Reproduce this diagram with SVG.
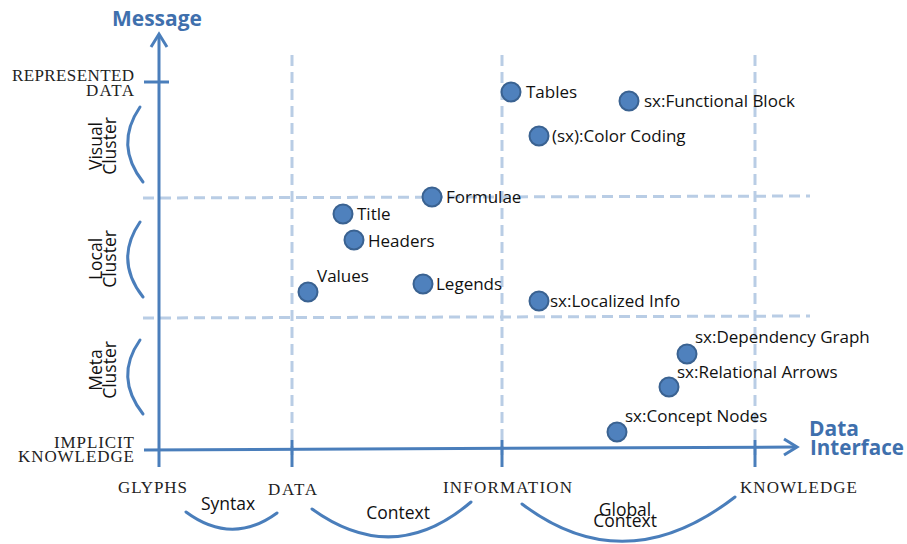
<svg xmlns="http://www.w3.org/2000/svg" width="907" height="544" viewBox="0 0 907 544">
  <style>
    .axis { stroke: #4a7ebb; stroke-width: 3; fill: none; }
    .grid { stroke: #b9cde5; stroke-width: 3; fill: none; stroke-dasharray: 11 6; }
    .brace { stroke: #4a7ebb; stroke-width: 3; fill: none; stroke-linecap: round; }
    .title { font-family: "Open Sans", Lato, sans-serif; font-weight: bold; font-size: 21px; fill: #3f70ad; }
    .level { font-family: "Liberation Serif", serif; font-size: 17px; fill: #222; }
    .side { font-family: "Open Sans", Lato, sans-serif; font-size: 17.5px; fill: #111; }
    .lbl { font-family: "Open Sans", Lato, sans-serif; font-size: 17px; fill: #111; }
    .node circle { fill: #4f81bd; stroke: #3a6291; stroke-width: 2; }
  </style>

  <!-- grid -->
  <g id="grid">
    <line class="grid" x1="143" y1="198" x2="810" y2="196"/>
    <line class="grid" x1="143" y1="318" x2="810" y2="316"/>
    <line class="grid" x1="292" y1="55" x2="292" y2="455"/>
    <line class="grid" x1="502" y1="55" x2="502" y2="455"/>
    <line class="grid" x1="755" y1="55" x2="755" y2="455"/>
  </g>

  <!-- axes -->
  <g id="axes">
    <line class="axis" x1="159" y1="467" x2="159" y2="35"/>
    <polyline class="axis" points="151,47 159,34 167,47"/>
    <line class="axis" x1="144" y1="82" x2="169" y2="82"/>
    <line class="axis" x1="144" y1="450" x2="796" y2="447"/>
    <polyline class="axis" points="784,439 797,447 784,455"/>
    <line class="axis" x1="292" y1="440" x2="292" y2="467"/>
    <line class="axis" x1="502" y1="440" x2="502" y2="467"/>
    <line class="axis" x1="755" y1="440" x2="755" y2="467"/>
    <text class="title" x="112" y="26" textLength="90" lengthAdjust="spacingAndGlyphs">Message</text>
    <text class="title" x="809" y="436" textLength="50" lengthAdjust="spacingAndGlyphs">Data</text>
    <text class="title" x="810" y="455" textLength="94" lengthAdjust="spacingAndGlyphs">Interface</text>
  </g>

  <!-- vertical levels -->
  <g id="y-levels">
    <text class="level" x="134" y="81" text-anchor="end" textLength="122" lengthAdjust="spacing">REPRESENTED</text>
    <text class="level" x="134" y="96" text-anchor="end" textLength="48" lengthAdjust="spacing">DATA</text>
    <text class="level" x="134" y="448" text-anchor="end" textLength="80" lengthAdjust="spacing">IMPLICIT</text>
    <text class="level" x="134" y="462" text-anchor="end" textLength="116" lengthAdjust="spacing">KNOWLEDGE</text>
  </g>

  <!-- clusters -->
  <g id="cluster-visual">
    <path class="brace" d="M140,107 Q114,145 143,182"/>
    <text class="side" transform="translate(102,146) rotate(-90)" text-anchor="middle">Visual</text>
    <text class="side" transform="translate(116,146) rotate(-90)" text-anchor="middle">Cluster</text>
  </g>
  <g id="cluster-local">
    <path class="brace" d="M140,222 Q114,260 143,297"/>
    <text class="side" transform="translate(102,259) rotate(-90)" text-anchor="middle">Local</text>
    <text class="side" transform="translate(116,259) rotate(-90)" text-anchor="middle">Cluster</text>
  </g>
  <g id="cluster-meta">
    <path class="brace" d="M140,340 Q114,377 143,414"/>
    <text class="side" transform="translate(102,370) rotate(-90)" text-anchor="middle">Meta</text>
    <text class="side" transform="translate(116,370) rotate(-90)" text-anchor="middle">Cluster</text>
  </g>

  <!-- horizontal levels -->
  <g id="x-levels">
    <text class="level" x="118" y="493" textLength="69" lengthAdjust="spacing">GLYPHS</text>
    <text class="level" x="268" y="495" textLength="49" lengthAdjust="spacing">DATA</text>
    <text class="level" x="443" y="493" textLength="129" lengthAdjust="spacing">INFORMATION</text>
    <text class="level" x="740" y="493" textLength="117" lengthAdjust="spacing">KNOWLEDGE</text>
  </g>

  <g id="transition-syntax">
    <path class="brace" d="M186,512 Q232,546 277,513"/>
    <text class="side" x="228" y="510" text-anchor="middle">Syntax</text>
  </g>
  <g id="transition-context">
    <path class="brace" d="M312,509 Q394,568 471,502"/>
    <text class="side" x="398" y="519" text-anchor="middle">Context</text>
  </g>
  <g id="transition-global">
    <path class="brace" d="M522,504 Q625,582 735,497"/>
    <text class="side" x="625" y="516" text-anchor="middle">Global</text>
    <text class="side" x="625" y="527" text-anchor="middle">Context</text>
  </g>

  <!-- nodes -->
  <g id="node-tables" class="node"><circle cx="511" cy="92" r="9.5"/><text class="lbl" x="526" y="98">Tables</text></g>
  <g id="node-functional-block" class="node"><circle cx="629" cy="101" r="9.5"/><text class="lbl" x="644" y="107">sx:Functional Block</text></g>
  <g id="node-color-coding" class="node"><circle cx="539" cy="136" r="9.5"/><text class="lbl" x="552" y="142">(sx):Color Coding</text></g>
  <g id="node-formulae" class="node"><circle cx="432" cy="197" r="9.5"/><text class="lbl" x="446" y="203">Formulae</text></g>
  <g id="node-title" class="node"><circle cx="343" cy="214" r="9.5"/><text class="lbl" x="357" y="220">Title</text></g>
  <g id="node-headers" class="node"><circle cx="354" cy="240" r="9.5"/><text class="lbl" x="368" y="247">Headers</text></g>
  <g id="node-values" class="node"><circle cx="308" cy="292" r="9.5"/><text class="lbl" x="317" y="282">Values</text></g>
  <g id="node-legends" class="node"><circle cx="423" cy="284" r="9.5"/><text class="lbl" x="436" y="290">Legends</text></g>
  <g id="node-localized-info" class="node"><circle cx="539" cy="301" r="9.5"/><text class="lbl" x="550" y="307">sx:Localized Info</text></g>
  <g id="node-dependency-graph" class="node"><circle cx="687" cy="354" r="9.5"/><text class="lbl" x="695" y="343">sx:Dependency Graph</text></g>
  <g id="node-relational-arrows" class="node"><circle cx="669" cy="387" r="9.5"/><text class="lbl" x="677" y="378">sx:Relational Arrows</text></g>
  <g id="node-concept-nodes" class="node"><circle cx="617" cy="432" r="9.5"/><text class="lbl" x="625" y="422">sx:Concept Nodes</text></g>
</svg>
